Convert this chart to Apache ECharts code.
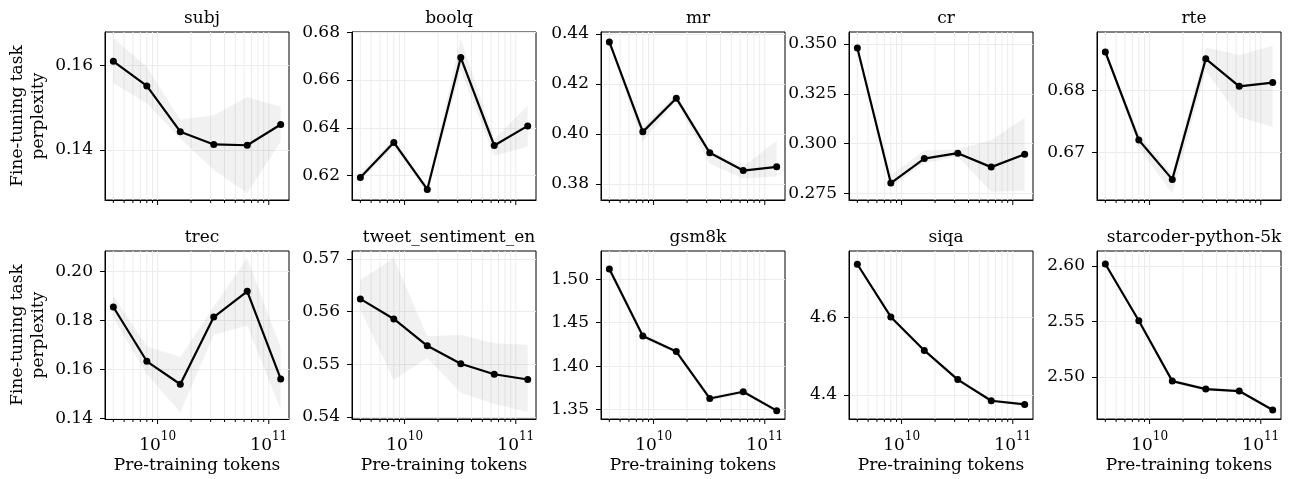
<!DOCTYPE html>
<html>
<head>
<meta charset="utf-8">
<script src="https://cdn.jsdelivr.net/npm/echarts@6/dist/echarts.min.js"></script>
<style>
html, body { margin: 0; padding: 0; background: #fff; }
#main { width: 1290px; height: 479px; }
</style>
</head>
<body>
<div id="main"></div>
<script>
// pre-training tokens (x)
const tokens = [4e9, 8e9, 1.6e10, 3.2e10, 6.4e10, 1.28e11];

// mean, lower and upper band per task
const subj = [0.1609, 0.1551, 0.1443, 0.1413, 0.1411, 0.1460];
const subjLo = [0.1557, 0.1510, 0.1427, 0.1353, 0.1298, 0.1420];
const subjHi = [0.1664, 0.1596, 0.1471, 0.1482, 0.1525, 0.1502];

const boolq = [0.6192, 0.6339, 0.6142, 0.6694, 0.6326, 0.6408];
const boolqLo = [0.6175, 0.6322, 0.6125, 0.6640, 0.6282, 0.6322];
const boolqHi = [0.6212, 0.6354, 0.6155, 0.6774, 0.6352, 0.6493];

const mr = [0.4368, 0.4008, 0.4143, 0.3924, 0.3853, 0.3868];
const mrLo = [0.4360, 0.3968, 0.4133, 0.3880, 0.3821, 0.3829];
const mrHi = [0.4376, 0.4028, 0.4160, 0.3933, 0.3868, 0.3973];

const cr = [0.3480, 0.2802, 0.2925, 0.2952, 0.2882, 0.2947];
const crLo = [0.3470, 0.2782, 0.2902, 0.2935, 0.2758, 0.2763];
const crHi = [0.3490, 0.2842, 0.2965, 0.2972, 0.3017, 0.3130];

const rte = [0.6861, 0.6720, 0.6657, 0.6850, 0.6806, 0.6812];
const rteLo = [0.6858, 0.6709, 0.6634, 0.6831, 0.6757, 0.6741];
const rteHi = [0.6864, 0.6730, 0.6666, 0.6868, 0.6856, 0.6871];

const trec = [0.1855, 0.1633, 0.1539, 0.1814, 0.1919, 0.1561];
const trecLo = [0.1810, 0.1580, 0.1424, 0.1742, 0.1778, 0.1435];
const trecHi = [0.1901, 0.1694, 0.1651, 0.1857, 0.2054, 0.1688];

const tweet = [0.5624, 0.5586, 0.5535, 0.5501, 0.5481, 0.5471];
const tweetLo = [0.5603, 0.5470, 0.5512, 0.5446, 0.5425, 0.5409];
const tweetHi = [0.5660, 0.5701, 0.5553, 0.5556, 0.5540, 0.5537];

const gsm8k = [1.5118, 1.4348, 1.4168, 1.3629, 1.3706, 1.3489];
const gsm8kLo = [1.5080, 1.4315, 1.4145, 1.3600, 1.3680, 1.3470];
const gsm8kHi = [1.5160, 1.4380, 1.4190, 1.3655, 1.3730, 1.3510];

const siqa = [4.7368, 4.6009, 4.5145, 4.4393, 4.3846, 4.3752];
const siqaLo = [4.7330, 4.5970, 4.5110, 4.4350, 4.3810, 4.3710];
const siqaHi = [4.7400, 4.6050, 4.5180, 4.4430, 4.3880, 4.3800];

const starcoder = [2.6018, 2.5506, 2.4961, 2.4889, 2.4871, 2.4700];
const starcoderLo = [2.6000, 2.5490, 2.4945, 2.4875, 2.4855, 2.4685];
const starcoderHi = [2.6035, 2.5525, 2.4975, 2.4905, 2.4885, 2.4715];

// titles, y ticks and y ranges
const titles = ['subj', 'boolq', 'mr', 'cr', 'rte', 'trec', 'tweet_sentiment_en', 'gsm8k', 'siqa', 'starcoder-python-5k'];
const yTicks = [
  [0.14, 0.16], [0.62, 0.64, 0.66, 0.68], [0.38, 0.40, 0.42, 0.44], [0.275, 0.300, 0.325, 0.350], [0.67, 0.68],
  [0.14, 0.16, 0.18, 0.20], [0.54, 0.55, 0.56, 0.57], [1.35, 1.40, 1.45, 1.50], [4.4, 4.6], [2.50, 2.55, 2.60]
];
const yDecimals = [2, 2, 2, 3, 2, 2, 2, 2, 1, 2];
const yMin = [0.1282, 0.6098, 0.3735, 0.2717, 0.6624, 0.1397, 0.5396, 1.3393, 4.3376, 2.4619];
const yMax = [0.1678, 0.6801, 0.4408, 0.3560, 0.6893, 0.2084, 0.5715, 1.5324, 4.7709, 2.6135];
const xTicks = [1e10, 1e11];
const xMin = 3.365e9, xMax = 1.52e11;

const means = [subj, boolq, mr, cr, rte, trec, tweet, gsm8k, siqa, starcoder];
const lows = [subjLo, boolqLo, mrLo, crLo, rteLo, trecLo, tweetLo, gsm8kLo, siqaLo, starcoderLo];
const highs = [subjHi, boolqHi, mrHi, crHi, rteHi, trecHi, tweetHi, gsm8kHi, siqaHi, starcoderHi];

const FONT = 'DejaVu Serif';
const FS = 17;
const lefts = [105, 352, 601, 849, 1097];
const tops = [32, 251];
const W = 184, H = 168;

// log grid positions (1..9 x 10^n)
function gridPositions(ymin) {
  const out = [];
  for (let n = 9; n <= 11; n++) {
    for (let k = 1; k <= 9; k++) {
      const v = k * Math.pow(10, n);
      if (v >= xMin && v <= xMax) out.push([v, ymin, k === 1 ? 1 : 0]);
    }
  }
  return out;
}

// one polygon between the lower and upper edge
function renderBand(params, api) {
  if (params.dataIndexInside !== 0) return null;
  const n = params.dataInsideLength;
  const pts = [];
  for (let k = 0; k < n; k++) pts.push(api.coord([api.value(0, k), api.value(2, k)]));
  for (let k = n - 1; k >= 0; k--) pts.push(api.coord([api.value(0, k), api.value(1, k)]));
  return { type: 'polygon', shape: { points: pts }, style: { fill: 'rgba(0,0,0,0.055)' } };
}

const grid = [], xAxis = [], yAxis = [], series = [], title = [];

titles.forEach(function (name, i) {
  const row = Math.floor(i / 5), col = i % 5;
  grid.push({ left: lefts[col], top: tops[row], width: W, height: H, show: true,
    borderColor: '#000', borderWidth: 1, backgroundColor: 'transparent' });
  title.push({ text: name, left: lefts[col] + W / 2, top: tops[row] - 27, textAlign: 'center',
    textStyle: { fontFamily: FONT, fontSize: FS, fontWeight: 'normal', color: '#000' } });

  xAxis.push({
    type: 'log', logBase: 10, gridIndex: i, min: xMin, max: xMax,
    axisLine: { show: true, onZero: false, lineStyle: { color: '#000', width: 1 } },
    axisTick: { show: false },
    splitLine: { show: false },
    axisLabel: {
      show: row === 1, customValues: xTicks, margin: 12,
      formatter: function (v) { return '{b|10}{s|' + Math.round(Math.log10(v)) + '}'; },
      rich: {
        b: { fontFamily: FONT, fontSize: FS, color: '#000', verticalAlign: 'bottom', lineHeight: 23 },
        s: { fontFamily: FONT, fontSize: 12, color: '#000', verticalAlign: 'top', lineHeight: 23 }
      }
    },
    name: row === 1 ? 'Pre-training tokens' : '', nameLocation: 'middle', nameGap: 38,
    nameTextStyle: { fontFamily: FONT, fontSize: FS, color: '#000' }
  });

  yAxis.push({
    type: 'value', gridIndex: i, min: yMin[i], max: yMax[i],
    axisLine: { show: true, onZero: false, lineStyle: { color: '#000', width: 1 } },
    axisTick: { show: true, customValues: yTicks[i], length: 5, lineStyle: { color: '#000', width: 1 } },
    axisLabel: {
      customValues: yTicks[i], margin: 12, fontFamily: FONT, fontSize: FS, color: '#000',
      formatter: function (v) { return v.toFixed(yDecimals[i]); }
    },
    splitLine: { show: true, lineStyle: { color: '#ececec', width: 1 } },
    name: col === 0 ? 'Fine-tuning task\nperplexity' : '', nameLocation: 'middle', nameGap: 56, nameRotate: 90,
    nameTextStyle: { fontFamily: FONT, fontSize: FS, color: '#000', lineHeight: 21 }
  });

  // vertical log grid lines + x ticks
  series.push({
    type: 'custom', xAxisIndex: i, yAxisIndex: i, silent: true, clip: false, z: 1,
    data: gridPositions(yMin[i]), encode: { x: 0, y: 1 },
    renderItem: function (params, api) {
      const x = api.coord([api.value(0), api.value(1)])[0];
      const cs = params.coordSys;
      const major = api.value(2) === 1;
      const bottom = cs.y + cs.height;
      return { type: 'group', children: [
        { type: 'line', shape: { x1: x, y1: cs.y, x2: x, y2: bottom }, style: { stroke: '#ececec', lineWidth: 1 } },
        { type: 'line', shape: { x1: x, y1: bottom, x2: x, y2: bottom + (major ? 5 : 3) }, style: { stroke: '#000', lineWidth: 1 } }
      ] };
    }
  });

  // shaded band
  series.push({
    type: 'custom', xAxisIndex: i, yAxisIndex: i, silent: true, z: 2,
    data: tokens.map(function (t, j) { return [t, lows[i][j], highs[i][j]]; }),
    encode: { x: 0, y: [1, 2] },
    renderItem: renderBand
  });

  // mean line
  series.push({
    type: 'line', xAxisIndex: i, yAxisIndex: i, z: 3,
    symbol: 'circle', symbolSize: 7, itemStyle: { color: '#000' },
    lineStyle: { color: '#000', width: 2.2 },
    data: tokens.map(function (t, j) { return [t, means[i][j]]; })
  });
});

const chart = echarts.init(document.getElementById('main'));
chart.setOption({
  animation: false,
  backgroundColor: '#fff',
  title: title,
  grid: grid,
  xAxis: xAxis,
  yAxis: yAxis,
  series: series
});
</script>
</body>
</html>
